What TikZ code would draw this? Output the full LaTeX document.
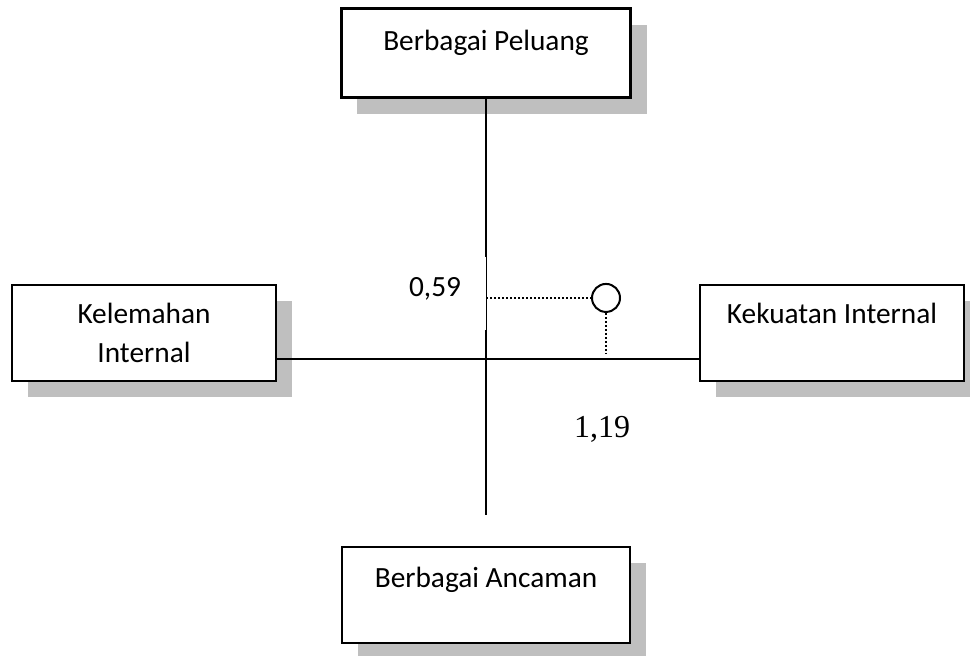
\documentclass[tikz,border=0pt]{standalone}
\usepackage{fontspec}
\setmainfont{Carlito}
\newfontfamily\serifangka{Liberation Serif}
\usetikzlibrary{positioning,shadows}

\tikzset{
  kotak/.style={draw, line width=1.1pt, fill=white, align=center,
    minimum width=99pt, minimum height=36pt, inner sep=0pt,
    drop shadow={shadow xshift=6pt, shadow yshift=-6pt, fill=black!25, opacity=1}},
  teks/.style={text height=7.5pt, text depth=#1},
  sumbu/.style={line width=.75pt},
  titikan/.style={line width=.75pt, dash pattern=on .75pt off .75pt},
}

\begin{document}
\begin{tikzpicture}[node distance=2cm, font=\fontsize{11pt}{14.6pt}\selectfont]
\useasboundingbox (-182.25pt,-111pt) rectangle (181.5pt,134.625pt);
\coordinate (O) at (0,0);
\node[kotak, teks=10pt, minimum width=108.4pt, minimum height=33.4pt] (peluang) [above=114.6pt of O, anchor=center] {Berbagai Peluang};
\node[kotak] (lemah) [above left=9.75pt and 128.25pt of O, anchor=center] {Kelemahan\\Internal};
\node[kotak, teks=15pt] (kuat) [above right=9.75pt and 129.75pt of O, anchor=center] {Kekuatan Internal};
\node[kotak, teks=13.5pt, minimum width=108pt] (ancaman) [below=88.5pt of O, anchor=center] {Berbagai Ancaman};
\coordinate[below=58.5pt of O] (ujung);

% sumbu
\draw[sumbu] (peluang) -- (ujung);
\draw[sumbu] (O -| lemah.east) -- (O -| kuat.west);

% posisi
\node[fill=white, minimum width=38.25pt, minimum height=27.4pt, inner sep=0pt, teks=5.5pt] (nilaiy) [above left=24.6pt and 19.1pt of O, anchor=center] {0,59};
\node[draw, circle, line width=.75pt, minimum size=10.5pt, inner sep=0pt] (titik) [above right=22.9pt and 45pt of O, anchor=center] {};
\coordinate[above right=2.25pt and 45pt of O] (kaki);
\draw[titikan] (titik -| O) -- (titik);
\draw[titikan] (titik) -- (kaki);
\node[font=\serifangka\fontsize{12pt}{14pt}\selectfont] (nilaix) [below right=29.25pt and 43.5pt of O, anchor=base] {1,19};
\end{tikzpicture}
\end{document}
